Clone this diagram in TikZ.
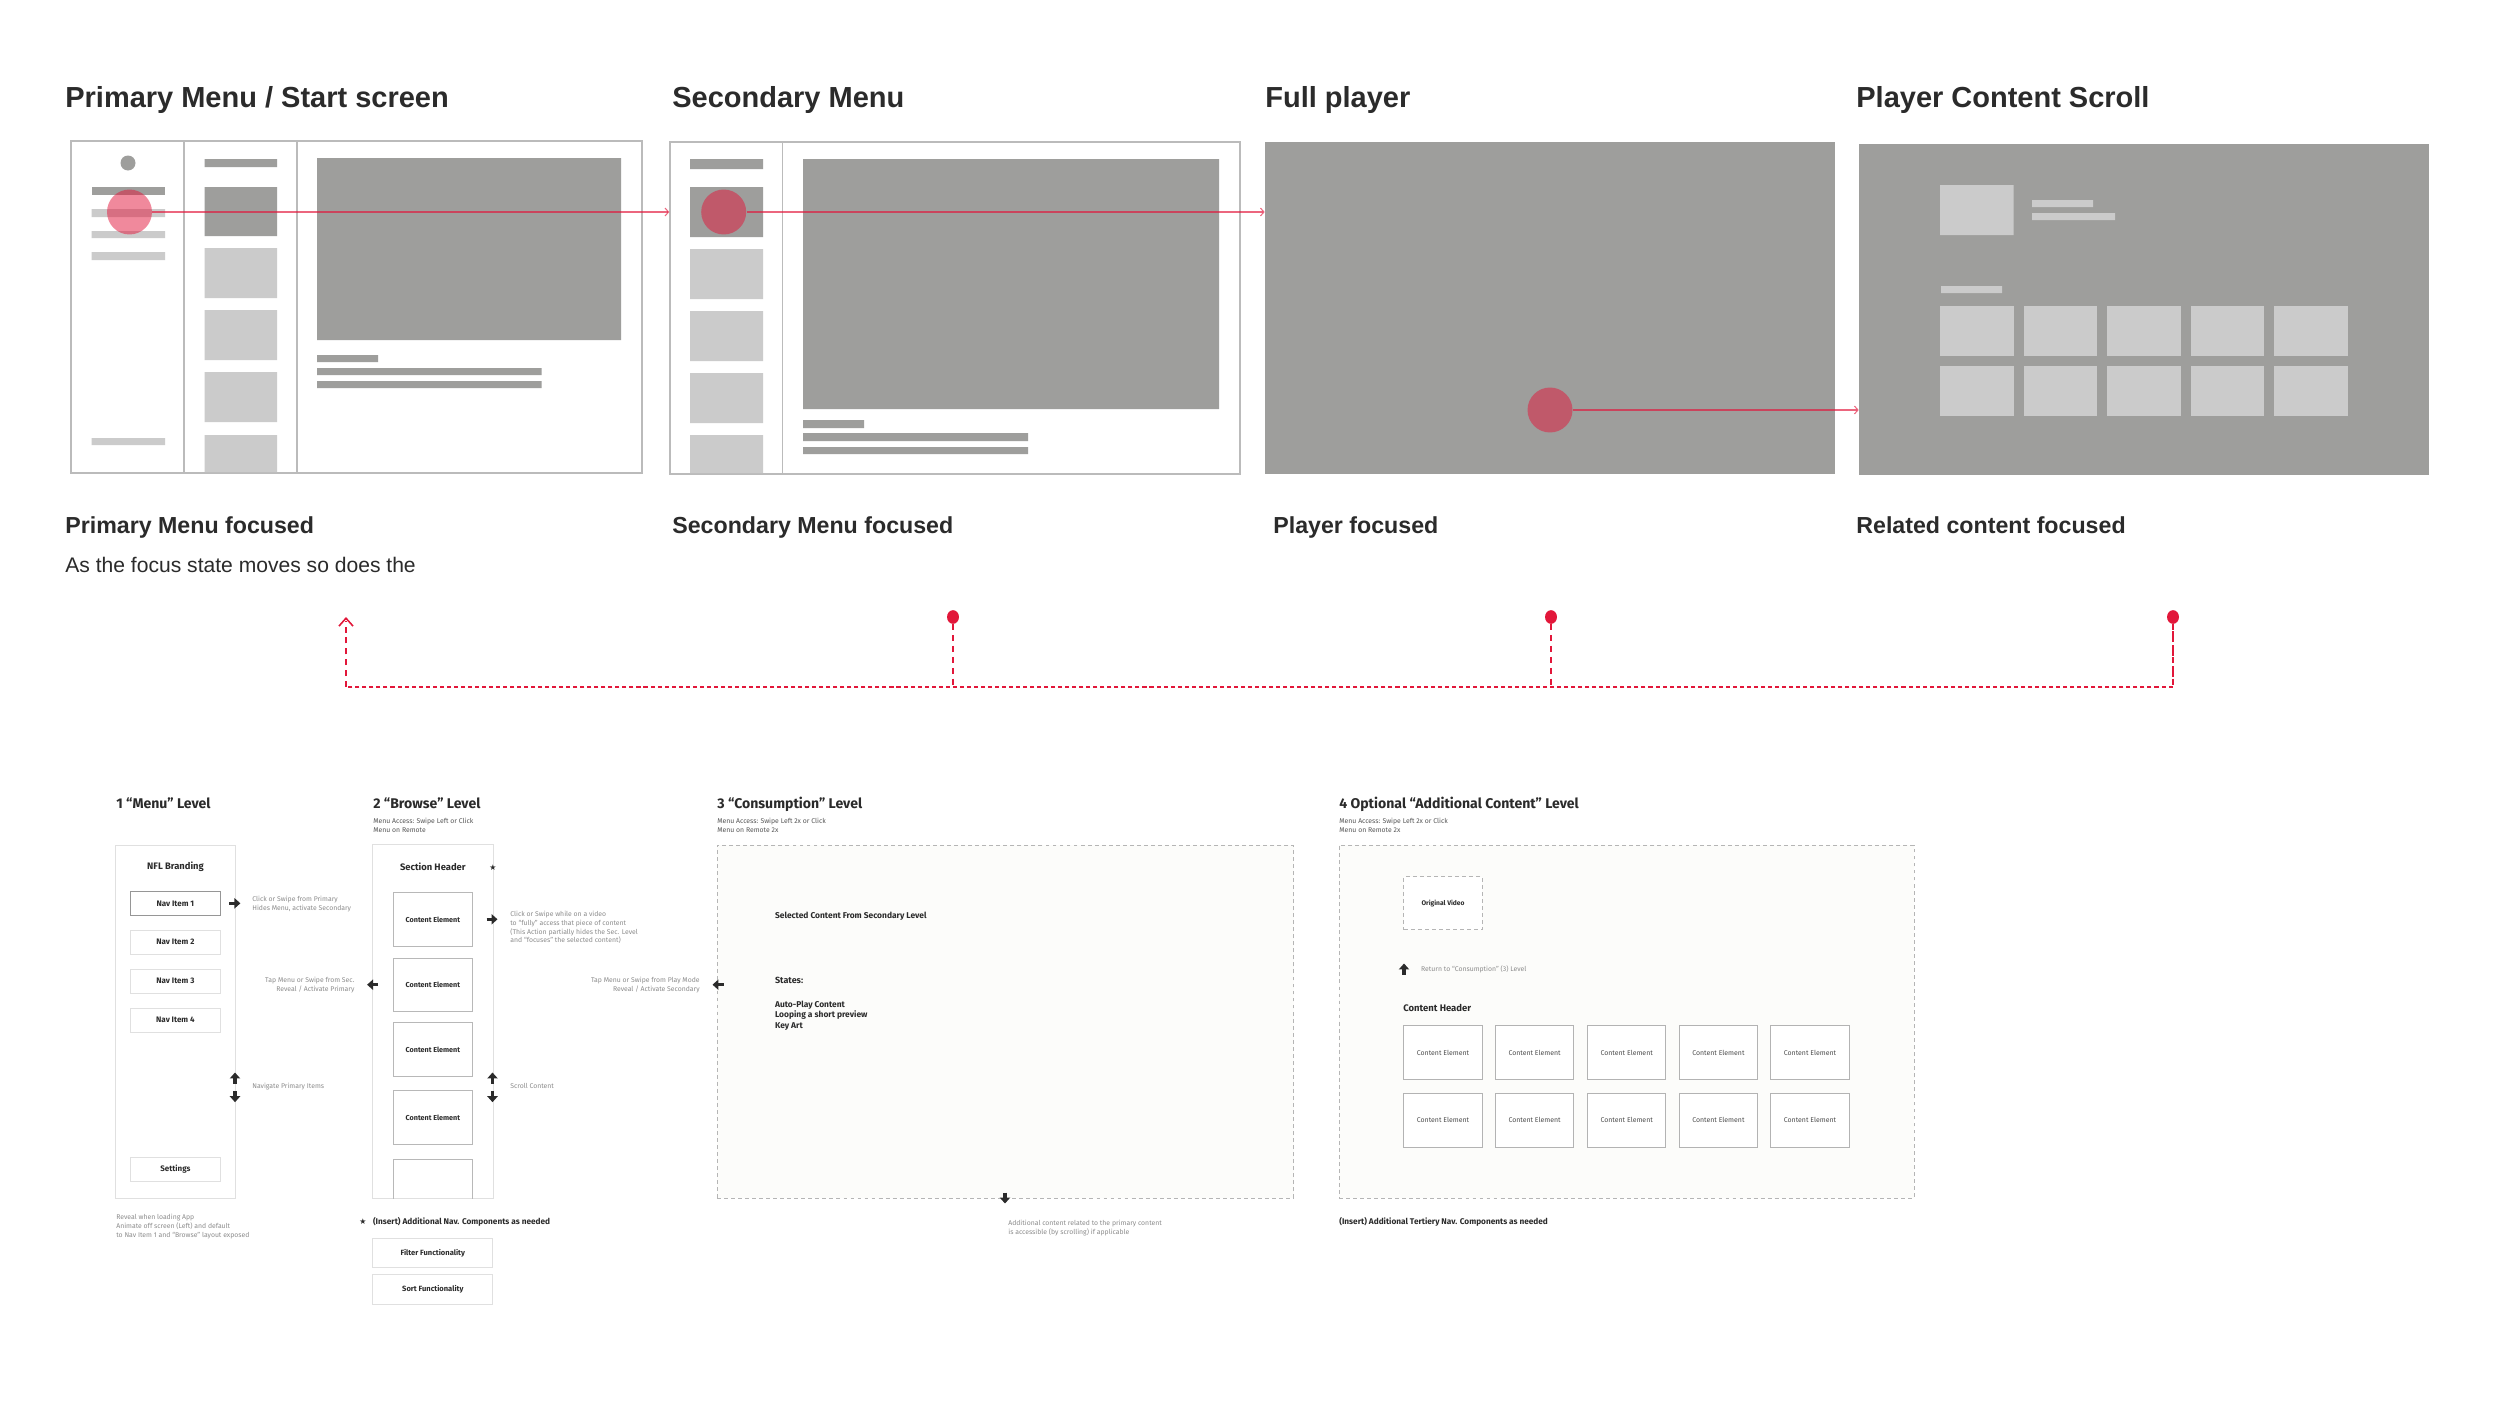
\documentclass[tikz,border=0pt]{standalone}
\usepackage{fontspec}
\setmainfont{Liberation Sans}
\newfontfamily\din{Fira Sans}
\newfontfamily\sym{DejaVu Sans}
\usetikzlibrary{arrows.meta,fit,shapes.geometric}

\definecolor{ink}{HTML}{2B2B2B}
\definecolor{grayDark}{HTML}{9E9E9C}
\definecolor{grayLight}{HTML}{CBCBCB}
\definecolor{frameLine}{HTML}{BBBBBB}
\definecolor{focusRed}{HTML}{E3153A}
\definecolor{dashRed}{HTML}{E2173A}
\definecolor{hintGray}{HTML}{8C8C8C}
\definecolor{accessGray}{HTML}{555555}
\definecolor{panelLine}{HTML}{E0E0E0}
\definecolor{cardLine}{HTML}{B8B8B8}
\definecolor{stageLine}{HTML}{B5B5B5}
\definecolor{paper}{HTML}{FCFCFA}

\tikzset{
  % top row
  title/.style={anchor=base west, inner sep=0, text=ink, font=\fontsize{16.5pt}{20pt}\selectfont\bfseries},
  subtitle/.style={anchor=base west, inner sep=0, text=ink, font=\fontsize{13.2pt}{16pt}\selectfont\bfseries},
  wire/.style={draw=frameLine, line width=0.85pt, inner sep=0},
  focus/.style={circle, fill=focusRed, fill opacity=0.5, minimum size=25.6pt, inner sep=0},
  trail/.style={draw=focusRed, draw opacity=0.65, line width=0.6pt, -{Straight Barb[length=2pt,width=4.5pt]}},
  dot/.style={ellipse, fill=dashRed, minimum width=6.8pt, minimum height=7.8pt, inner sep=0},
  busline/.style={draw=dashRed, line width=1.4pt, dash pattern=on 3.4pt off 2.8pt},
  % bottom row (multi-line nodes sit on the baseline of their last line)
  lvltitle/.style={anchor=base west, inner sep=0, text=ink, font=\din\fontsize{8pt}{9pt}\selectfont\bfseries},
  access/.style={anchor=base west, align=left, inner sep=0, text=accessGray, font=\din\fontsize{3.9pt}{4.7pt}\selectfont},
  hint/.style={anchor=base west, align=left, inner sep=0, text=hintGray, font=\din\fontsize{3.9pt}{4.95pt}\selectfont},
  lbl/.style={inner sep=0, text=ink, font=\din\fontsize{5.35pt}{6pt}\selectfont\bfseries},
  panel/.style={draw=panelLine, fill=white, line width=0.5pt, inner sep=0},
  stage/.style={draw=stageLine, fill=paper, line width=0.5pt, dash pattern=on 2.2pt off 1.8pt, inner sep=0},
  navbox/.style={draw=panelLine, line width=0.5pt, minimum width=51.6pt, minimum height=13.7pt, inner sep=0, text=ink, font=\din\fontsize{4.55pt}{5pt}\selectfont\bfseries},
  cardbox/.style={draw=cardLine, line width=0.5pt, fill=white, minimum width=44.8pt, minimum height=30.7pt, inner sep=0, text=ink, font=\din\fontsize{4.1pt}{5pt}\selectfont\bfseries},
  tilebox/.style={draw=panelLine!80!black, line width=0.5pt, fill=white, minimum width=44.5pt, minimum height=30.5pt, inner sep=0, text=ink!85, font=\din\fontsize{3.95pt}{5pt}\selectfont},
  blk/.style={draw=ink, line width=2pt, -{Triangle[length=3.4pt,width=5.8pt]}},
}

\begin{document}
\begin{tikzpicture}[x=0.02cm, y=-0.02cm]
\useasboundingbox[fill=white] (0,0) rectangle (2500,1406);

% ---------- screen 1: primary menu
\node[title] (t1) at (65,108) {Primary Menu / Start screen};
\node[wire, fit={(71,141)(642,473)}] (scr1) {};
\draw[wire] (184,141) -- (184,473) (297,141) -- (297,473);
\fill[grayDark] (128,163) circle[radius=7.5];
\fill[grayDark] (91.5,187) rectangle (165,195);
\fill[grayLight] (91.5,209) rectangle (165,217) (91.5,231) rectangle (165,238)
  (91.5,252) rectangle (165,260) (91.5,438) rectangle (165,445);
\fill[grayDark] (204.5,159) rectangle (277,167) (204.5,187) rectangle (277,236);
\fill[grayLight] (204.5,248) rectangle (277,298) (204.5,310) rectangle (277,360)
  (204.5,372) rectangle (277,422) (204.5,435) rectangle (277,472);
\fill[grayDark] (317,158) rectangle (621,340) (317,355) rectangle (378,362)
  (317,368) rectangle (541.5,375) (317,381) rectangle (541.5,388);

% ---------- screen 2: secondary menu
\node[title] (t2) at (672,108) {Secondary Menu};
\node[wire, fit={(670,142)(1240,474)}] (scr2) {};
\draw[wire] (782.4,142) -- (782.4,474);
\fill[grayDark] (690,159) rectangle (763,169) (690,187) rectangle (763,237);
\fill[grayLight] (690,249) rectangle (763,299) (690,311) rectangle (763,361)
  (690,373) rectangle (763,423) (690,435) rectangle (763,473);
\fill[grayDark] (803,159) rectangle (1219,409) (803,420) rectangle (864,428)
  (803,433) rectangle (1028,441) (803,447) rectangle (1028,454);

% ---------- screen 3: full player
\node[title] (t3) at (1265,108) {Full player};
\node[fill=grayDark, inner sep=0, fit={(1265,142)(1835,474)}] (scr3) {};

% ---------- screen 4: player content scroll
\node[title] (t4) at (1856,108) {Player Content Scroll};
\node[fill=grayDark, inner sep=0, fit={(1859,144)(2428.6,475)}] (scr4) {};
\fill[grayLight] (1940,185) rectangle (2013.5,235) (2032,200) rectangle (2093,207)
  (2032,213) rectangle (2115,220) (1941,286) rectangle (2002,293);
\foreach \cx in {1940,2023.5,2107,2190.5,2274}
  \foreach \ry in {306,366}
    \fill[grayLight] (\cx,\ry) rectangle ++(73.5,50);

% focus markers and their paths
\node[focus] (f1) at (129.5,212) {};
\node[focus] (f2) at (723.7,212) {};
\node[focus] (f3) at (1550,410) {};
\draw[trail] (f1) -- (f1 -| scr2.west);
\draw[trail] (f2) -- (f2 -| scr3.west);
\draw[trail] (f3) -- (f3 -| scr4.west);

\node[subtitle] (s1) at (65,533) {Primary Menu focused};
\node[subtitle] (s2) at (672,533) {Secondary Menu focused};
\node[subtitle] (s3) at (1273,533) {Player focused};
\node[subtitle] (s4) at (1856,533) {Related content focused};
\node[anchor=base west, inner sep=0, text=ink, font=\fontsize{12pt}{14pt}\selectfont] (s1txt) at (65,572) {As the focus state moves so does the};

% ---------- red return bus
\node[dot] (d2) at (953,617) {};
\node[dot] (d3) at (1551,617) {};
\node[dot] (d4) at (2173,617) {};
\coordinate (bus) at (346,687);
\coordinate (tip) at (346,617);
\draw[busline, dash pattern=on 2.3pt off 1.7pt] (d4) |- (bus);
\draw[busline] (d2) -- (d2 |- bus);
\draw[busline] (d3) -- (d3 |- bus);
\draw[busline] (d4) -- (d4 |- bus);
\draw[busline] (bus) -- ([yshift=-2pt]tip);
\draw[dashRed, line width=0.9pt, -{Straight Barb[length=4.5pt,width=8pt]}] ([yshift=-1pt]tip) -- (tip);

% ---------- level 1: menu
\node[lvltitle] (l1) at (116,808.5) {1 “Menu” Level};
\node[panel, fit={(115.7,845)(235.7,1198)}] (menu) {};
\node[lbl] (brand) at (175.5,867) {NFL Branding};
\node[navbox, draw=frameLine!80!black] (nav1) at (175.4,903.5) {Nav Item 1};
\node[navbox] (nav2) at (175.4,942) {Nav Item 2};
\node[navbox] (nav3) at (175.4,981) {Nav Item 3};
\node[navbox] (nav4) at (175.4,1020) {Nav Item 4};
\node[navbox] (settings) at (175.4,1169) {Settings};
\node[hint] (h1a) at (252,910) {Click or Swipe from Primary\\Hides Menu, activate Secondary};
\node[hint, anchor=base east, align=right] (h1b) at (354.8,991.3) {Tap Menu or Swipe from Sec.\\Reveal / Activate Primary};
\node[hint] (h1c) at (252,1088.7) {Navigate Primary Items};
\node[hint] (h1d) at (116,1237) {Reveal when loading App\\Animate off screen (Left) and default\\to Nav Item 1 and “Browse” layout exposed};

% ---------- level 2: browse
\node[lvltitle] (l2) at (373,808.5) {2 “Browse” Level};
\node[access] (a2) at (373,832) {Menu Access: Swipe Left or Click\\Menu on Remote};
\node[panel, fit={(372.7,844.7)(493,1198.7)}] (browse) {};
\node[lbl] (sechead) at (432.8,866.8) {Section Header};
\node[inner sep=0, font=\sym\fontsize{4.5pt}{5pt}\selectfont, text=ink] (star1) at (493,868) {★};
\foreach \cy [count=\i] in {919.7,984.9,1049.8,1117.5}
  \node[cardbox] (card\i) at (432.9,\cy) {Content Element};
\draw[draw=cardLine, line width=0.5pt] (393.6,1198.7) |- (472.2,1159.8) -- (472.2,1198.7);
\node[hint] (h2a) at (510,942.7) {Click or Swipe while on a video\\to “fully” access that piece of content\\(This Action partially hides the Sec. Level\\and “focuses” the selected content)};
\node[hint, anchor=base east, align=right] (h2b) at (700,991.3) {Tap Menu or Swipe from Play Mode\\Reveal / Activate Secondary};
\node[hint] (h2c) at (510,1088.7) {Scroll Content};
\node[inner sep=0, font=\sym\fontsize{4.5pt}{5pt}\selectfont, text=ink] (star2) at (363,1222) {★};
\node[lbl, anchor=base west, font=\din\fontsize{4.7pt}{5pt}\selectfont\bfseries] (ins2) at (372.7,1224) {(Insert) Additional Nav. Components as needed};
\node[navbox, minimum width=68.4pt, minimum height=16.8pt, font=\din\fontsize{4.3pt}{5pt}\selectfont\bfseries] (filter) at (432.8,1252.8) {Filter Functionality};
\node[navbox, minimum width=68.4pt, minimum height=16.8pt, font=\din\fontsize{4.3pt}{5pt}\selectfont\bfseries] (sort) at (432.8,1289.3) {Sort Functionality};

% ---------- level 3: consumption
\node[lvltitle] (l3) at (717,808.5) {3 “Consumption” Level};
\node[access] (a3) at (717,832) {Menu Access: Swipe Left 2x or Click\\Menu on Remote 2x};
\node[stage, fit={(717,845)(1293.5,1198)}] (consume) {};
\node[lbl, anchor=base west, font=\din\fontsize{4.8pt}{5.7pt}\selectfont\bfseries] (sel) at (774.7,918.7) {Selected Content From Secondary Level};
\node[lbl, anchor=base west, font=\din\fontsize{5.1pt}{5.7pt}\selectfont\bfseries] (states) at (774.7,983.7) {States:};
\node[lbl, anchor=base west, align=left, font=\din\fontsize{4.8pt}{5.9pt}\selectfont\bfseries] (statelist) at (774.7,1028) {Auto-Play Content\\Looping a short preview\\Key Art};
\node[hint] (h3) at (1008,1234) {Additional content related to the primary content\\is accessible (by scrolling) if applicable};

% ---------- level 4: additional content
\node[lvltitle] (l4) at (1339,808.5) {4 Optional “Additional Content” Level};
\node[access] (a4) at (1339,832) {Menu Access: Swipe Left 2x or Click\\Menu on Remote 2x};
\node[stage, fit={(1339,845)(1914,1198)}] (extra) {};
\node[stage, fill=white, minimum width=44.5pt, minimum height=30.3pt, text=ink, font=\din\fontsize{3.8pt}{5pt}\selectfont\bfseries] (orig) at (1443,903.3) {Original Video};
\node[hint] (h4) at (1420.8,971) {Return to “Consumption” (3) Level};
\node[lbl, anchor=base west, font=\din\fontsize{5.4pt}{6pt}\selectfont\bfseries] (chead) at (1403,1011.5) {Content Header};
\foreach \cx [count=\i] in {1443,1534.6,1626.7,1718.4,1810}
  \foreach \cy [count=\j] in {1052.5,1120.2}
    \node[tilebox] (tile\i\j) at (\cx,\cy) {Content Element};
\node[lbl, anchor=base west, font=\din\fontsize{4.7pt}{5pt}\selectfont\bfseries] (ins4) at (1339,1224.7) {(Insert) Additional Tertiery Nav. Components as needed};

% ---------- navigation arrows
\draw[blk] (229.4,903.3) -- (240.4,903.3);
\draw[blk] (378.1,984.7) -- (367.1,984.7);
\draw[blk] (235,1083.5) -- (235,1072.5);
\draw[blk] (235,1091.2) -- (235,1102.2);
\draw[blk] (486.5,919.3) -- (497.5,919.3);
\draw[blk] (492.5,1083.5) -- (492.5,1072.5);
\draw[blk] (492.5,1091.2) -- (492.5,1102.2);
\draw[blk] (723.5,984.7) -- (712.5,984.7);
\draw[blk] (1005,1192.5) -- (1005,1203.5);
\draw[blk] (1404,974.5) -- (1404,963.5);
\end{tikzpicture}
\end{document}
